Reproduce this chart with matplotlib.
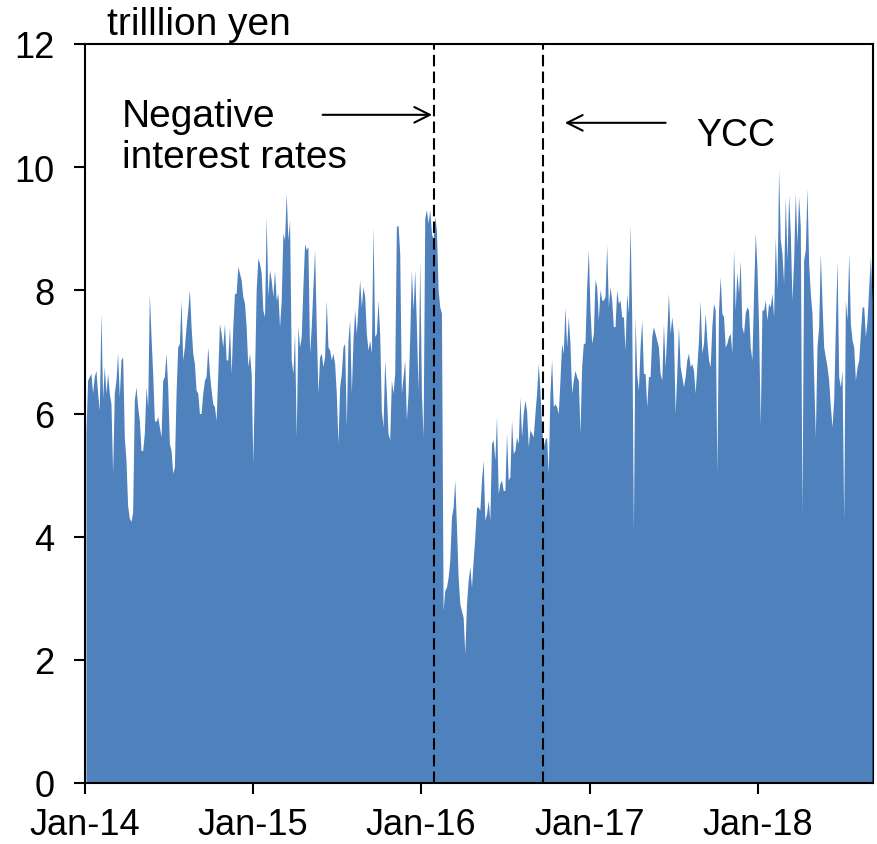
import matplotlib
matplotlib.use('Agg')
import matplotlib.pyplot as plt
import matplotlib.dates as mdates
import pandas as pd
import numpy as np

plt.rcParams['font.family'] = ['Liberation Sans', 'DejaVu Sans']

# Daily-ish outstanding amount (trillion yen)
vals_2014 = [5.68, 6.54, 6.6, 6.65, 6.33, 6.6, 6.7, 6.33, 6.05, 7.63,
             6.25, 6.76, 6.33, 6.65, 6.33, 6.16, 5.03, 6.33, 6.54, 6.98,
             6.27, 6.87, 6.92, 5.62, 5.24, 4.5, 4.3, 4.25, 4.4, 6.22,
             6.43, 6.11, 5.89, 5.4, 5.4, 5.68, 6.43, 6.11, 7.95, 7.25,
             6.65, 5.89, 5.87, 5.95, 5.78, 5.62, 6.54, 6.6, 6.98, 6.43,
             5.51, 5.4, 5.03, 5.13, 6.33, 7.08, 7.14, 7.84, 6.87, 7.08,
             7.41, 7.68, 8.01, 7.41, 6.98, 6.81, 6.38, 6.33, 6.0, 6.0,
             6.33, 6.54, 6.6, 7.08, 6.65, 6.38, 6.16, 6.11]
vals_2015a = [5.89, 6.65, 7.46, 7.3, 7.08, 7.46, 6.87, 6.87, 7.41, 6.65,
              7.41, 7.95, 7.95, 8.39, 8.28, 8.17, 7.9, 7.79, 7.41, 6.76,
              6.98, 6.65, 5.19, 6.6, 8.01, 8.52, 8.44, 8.28, 7.68, 7.57,
              9.2, 7.9, 8.33, 8.17, 7.9, 8.33, 7.84, 7.95, 7.41, 7.84,
              8.93, 8.82, 9.58, 8.82, 9.14, 6.87, 6.65, 7.3, 5.62, 7.41,
              7.08, 7.25, 8.06, 8.76, 8.66, 8.71, 6.98, 7.41, 8.06, 8.66,
              7.41, 6.33, 6.92, 6.98, 6.76, 6.92, 7.84, 7.08, 7.03, 6.87,
              6.98, 6.81, 6.33, 5.51, 6.43, 6.65, 7.08, 7.14]
vals_2015b = [5.78, 7.19, 7.52, 6.33, 7.19, 7.68, 7.3, 7.73, 8.17, 7.73,
              8.06, 7.9, 7.3, 7.03, 7.19, 6.98, 9.03, 7.25, 7.3, 7.84,
              7.3, 6.05, 5.78, 6.87, 6.33, 5.68, 5.57, 6.54, 6.33, 6.65,
              9.03, 9.06, 8.6, 6.33, 6.6, 6.87, 5.89, 6.33, 7.25, 8.33,
              7.68, 8.33, 7.41, 6.38, 8.49, 6.33, 5.62, 9.17, 9.31, 9.09,
              9.31, 8.93, 8.82, 9.2, 8.98, 8.01, 7.73, 7.63, 2.8, 3.13,
              3.18, 3.34, 3.62, 4.32, 4.48, 4.92, 4.16, 3.34, 2.91, 2.8,
              2.69, 2.1, 2.91, 3.29, 3.51, 3.18, 3.62, 4.0]
vals_2016 = [4.48, 4.48, 4.43, 4.92, 5.24, 4.27, 4.37, 4.59, 4.27, 5.51,
             5.57, 5.24, 5.95, 4.7, 4.86, 4.92, 4.75, 4.75, 5.68, 4.92,
             4.97, 5.89, 5.35, 5.4, 5.62, 5.51, 6.27, 5.62, 6.0, 6.22,
             6.05, 5.46, 5.73, 5.68, 5.62, 6.0, 6.33, 6.81, 6.38, 5.78,
             5.46, 5.57, 5.62, 5.03, 6.33, 6.87, 6.11, 6.16, 6.11, 6.0,
             6.54, 7.14, 6.98, 7.73, 7.08, 7.57, 7.14, 6.33, 6.54, 6.7,
             6.6, 6.54, 5.68, 6.76, 7.14, 7.14, 8.06, 8.66, 7.68, 7.14,
             7.3, 8.17, 8.06, 7.52, 8.01, 7.84, 7.84, 7.9]
vals_2017 = [8.74, 7.73, 8.06, 7.84, 7.41, 7.41, 8.01, 7.79, 7.84, 7.57,
             7.57, 7.03, 7.95, 7.63, 9.06, 7.57, 4.1, 7.57, 6.65, 6.38,
             7.08, 7.52, 6.65, 6.65, 6.11, 6.6, 6.6, 7.25, 7.41, 7.3,
             7.19, 7.08, 6.65, 6.54, 7.46, 6.76, 7.3, 7.95, 7.3, 7.57,
             7.3, 6.0, 6.65, 7.41, 6.76, 6.6, 6.43, 6.6, 6.87, 6.98,
             6.76, 6.81, 6.7, 6.33, 6.76, 7.19, 7.84, 6.98, 7.14, 7.63,
             7.19, 6.87, 6.76, 7.41, 7.79, 7.68, 5.03, 7.68, 8.22, 7.63,
             7.57, 7.08, 7.14, 7.25, 7.3, 6.98, 8.66, 7.68]
vals_2018 = [8.3, 7.95, 8.49, 7.41, 7.3, 7.63, 7.73, 7.68, 7.08, 6.87,
             7.95, 8.93, 8.39, 7.41, 5.81, 7.68, 7.68, 7.84, 7.52, 7.79,
             7.73, 7.95, 7.57, 8.87, 8.01, 9.96, 8.82, 8.6, 8.11, 9.52,
             8.49, 9.55, 8.93, 7.84, 8.49, 9.58, 8.76, 9.52, 9.03, 4.37,
             8.49, 8.66, 9.66, 8.44, 7.95, 7.63, 6.6, 5.62, 7.08, 7.41,
             8.6, 7.79, 7.08, 6.92, 6.76, 6.54, 6.11, 5.78, 6.22, 7.41,
             8.49, 6.6, 6.43, 6.7, 4.27, 7.84, 7.52, 8.6, 7.46, 7.19,
             7.08, 6.54, 6.76, 6.87, 7.3, 7.73, 7.73, 7.25, 7.52, 8.06,
             8.55, 7.84]

values = vals_2014 + vals_2015a + vals_2015b + vals_2016 + vals_2017 + vals_2018
dates = pd.date_range('2014-01-03', periods=len(values), freq='87h')

event_dates = ['2016-01-29', '2016-09-21']
event_labels = ['Negative\ninterest rates', 'YCC']
year_ticks = ['2014-01-01', '2015-01-01', '2016-01-01', '2017-01-01', '2018-01-01']
y_ticks = [0, 2, 4, 6, 8, 10, 12]

fig = plt.figure(figsize=(8.77, 8.45), dpi=100)
ax = fig.add_axes([85/877, 1-784/845, (873-85)/877, (784-45)/845])

ax.fill_between(dates, values, 0, color='#4F81BD', lw=0, zorder=2)

for d in event_dates:
    ax.axvline(pd.Timestamp(d), color='black', lw=1.5, ls=(0, (5.5, 2.5)), zorder=3)

ax.set_xlim(pd.Timestamp('2014-01-01'), dates[-1] + pd.Timedelta(days=2))
ax.set_ylim(0, 12)
ax.set_yticks(y_ticks)
ax.set_xticks([pd.Timestamp(t) for t in year_ticks])
ax.xaxis.set_major_formatter(mdates.DateFormatter('%b-%y'))

for s in ax.spines.values():
    s.set_linewidth(1.5)
    s.set_color('black')
ax.spines['right'].set_zorder(1)
ax.tick_params(axis='y', direction='out', length=8, width=1.5, labelsize=26, pad=14)
ax.tick_params(axis='x', direction='out', length=8, width=1.5, labelsize=26, pad=9)

# annotations
ax.text(pd.Timestamp('2014-03-22'), 11.13, event_labels[0], fontsize=28,
        va='top', ha='left', linespacing=1.2)
ax.annotate('', xy=(pd.Timestamp('2016-01-25'), 10.85),
            xytext=(pd.Timestamp('2015-06-01'), 10.85),
            arrowprops=dict(arrowstyle='->', color='black', lw=1.5,
                            mutation_scale=28, shrinkA=0, shrinkB=0))
ax.text(pd.Timestamp('2017-08-20'), 10.36, event_labels[1], fontsize=27,
        va='baseline', ha='left')
ax.annotate('', xy=(pd.Timestamp('2016-11-08'), 10.72),
            xytext=(pd.Timestamp('2017-06-15'), 10.72),
            arrowprops=dict(arrowstyle='->', color='black', lw=1.5,
                            mutation_scale=28, shrinkA=0, shrinkB=0))

fig.text(107/877, 1-35/845, 'trilllion yen', fontsize=28, va='baseline', ha='left')

fig.savefig('out.png', dpi=100)
